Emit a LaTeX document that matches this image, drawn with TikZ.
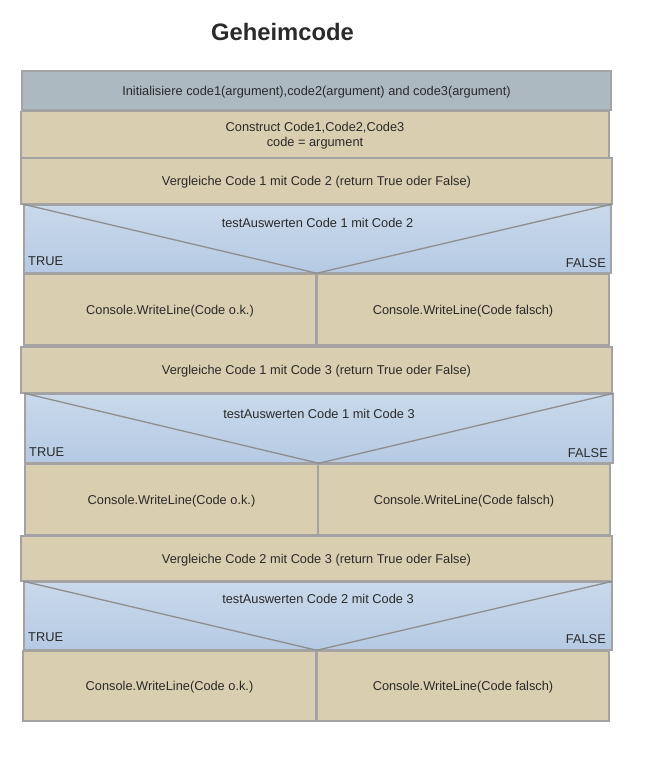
\documentclass[tikz,border=0pt]{standalone}
\usepackage{fontspec}
\setmainfont{Liberation Sans}
\usepackage{tikz}
\usetikzlibrary{positioning}

\definecolor{rimgray}{HTML}{A3A3A3}
\definecolor{initfill}{HTML}{ADB9C1}
\definecolor{tanfill}{HTML}{D9CEB0}
\definecolor{bluetop}{HTML}{C9D9EB}
\definecolor{bluebot}{HTML}{B5CAE3}
\definecolor{inkgray}{HTML}{2A2A2A}
\definecolor{vgray}{HTML}{8E8E8E}

\begin{document}
\begin{tikzpicture}[y=-1pt,x=1pt,
	blk/.style={draw=rimgray, line width=1.5pt, inner sep=0pt, text=inkgray, text depth=0pt,
		font=\fontsize{12.8}{15}\selectfont, align=center},
	initbox/.style={blk, fill=initfill},
	tanbox/.style={blk, fill=tanfill},
	testbox/.style={blk, top color=bluetop, bottom color=bluebot},
	lbl/.style={text=inkgray, inner sep=0pt, text depth=0pt, font=\fontsize{12.8}{15}\selectfont},
	vline/.style={draw=vgray, line width=1.3pt}]
	\useasboundingbox (0,0) rectangle (648,774);

	\node[text=inkgray, font=\fontsize{23.8}{26}\selectfont\bfseries] (title) at (282.5,32) {Geheimcode};

	\node[initbox, minimum width=589, minimum height=39] (init) at (316.5,90.5)
		{Initialisiere code1(argument),code2(argument) and code3(argument)};
	\node[tanbox, minimum width=588, minimum height=46] (construct) at (315,134.5)
		{Construct Code1,Code2,Code3\\code = argument};

	% Code 1 / Code 2
	\node[tanbox, minimum width=591, minimum height=46] (cmp12) at (316.5,181)
		{Vergleiche Code 1 mit Code 2 (return True oder False)};
	\node[testbox, minimum width=587, minimum height=68] (test12) at (317.5,239) {};
	\node[tanbox, minimum width=292, minimum height=71] (ok12) at (170,309.5)
		{Console.WriteLine(Code o.k.)};
	\node[tanbox, minimum width=292, minimum height=71] (bad12) at (463,309.5)
		{Console.WriteLine(Code falsch)};
	\draw[vline] (test12.north west) -- (ok12.north east) -- (test12.north east);
	\node[lbl] (test12t) at (317.5,223) {testAuswerten Code 1 mit Code 2};
	\node[lbl, anchor=west] (true12) at (28,261) {TRUE};
	\node[lbl, anchor=east] (false12) at (606,263) {FALSE};

	% Code 1 / Code 3
	\node[tanbox, minimum width=591, minimum height=46] (cmp13) at (316.5,370)
		{Vergleiche Code 1 mit Code 3 (return True oder False)};
	\node[testbox, minimum width=588, minimum height=69] (test13) at (319,428.5) {};
	\node[tanbox, minimum width=293, minimum height=71] (ok13) at (171.5,499.5)
		{Console.WriteLine(Code o.k.)};
	\node[tanbox, minimum width=292, minimum height=71] (bad13) at (464,499.5)
		{Console.WriteLine(Code falsch)};
	\draw[vline] (test13.north west) -- (ok13.north east) -- (test13.north east);
	\node[lbl] (test13t) at (319,414) {testAuswerten Code 1 mit Code 3};
	\node[lbl, anchor=west] (true13) at (29,452) {TRUE};
	\node[lbl, anchor=east] (false13) at (608,453) {FALSE};

	% Code 2 / Code 3
	\node[tanbox, minimum width=591, minimum height=45] (cmp23) at (316.5,558.5)
		{Vergleiche Code 2 mit Code 3 (return True oder False)};
	\node[testbox, minimum width=588, minimum height=68] (test23) at (318,616) {};
	\node[tanbox, minimum width=293, minimum height=70] (ok23) at (169.5,686)
		{Console.WriteLine(Code o.k.)};
	\node[tanbox, minimum width=292, minimum height=70] (bad23) at (463,686)
		{Console.WriteLine(Code falsch)};
	\draw[vline] (test23.north west) -- (ok23.north east) -- (test23.north east);
	\node[lbl] (test23t) at (318,599) {testAuswerten Code 2 mit Code 3};
	\node[lbl, anchor=west] (true23) at (28,637) {TRUE};
	\node[lbl, anchor=east] (false23) at (606,639) {FALSE};
\end{tikzpicture}
\end{document}
